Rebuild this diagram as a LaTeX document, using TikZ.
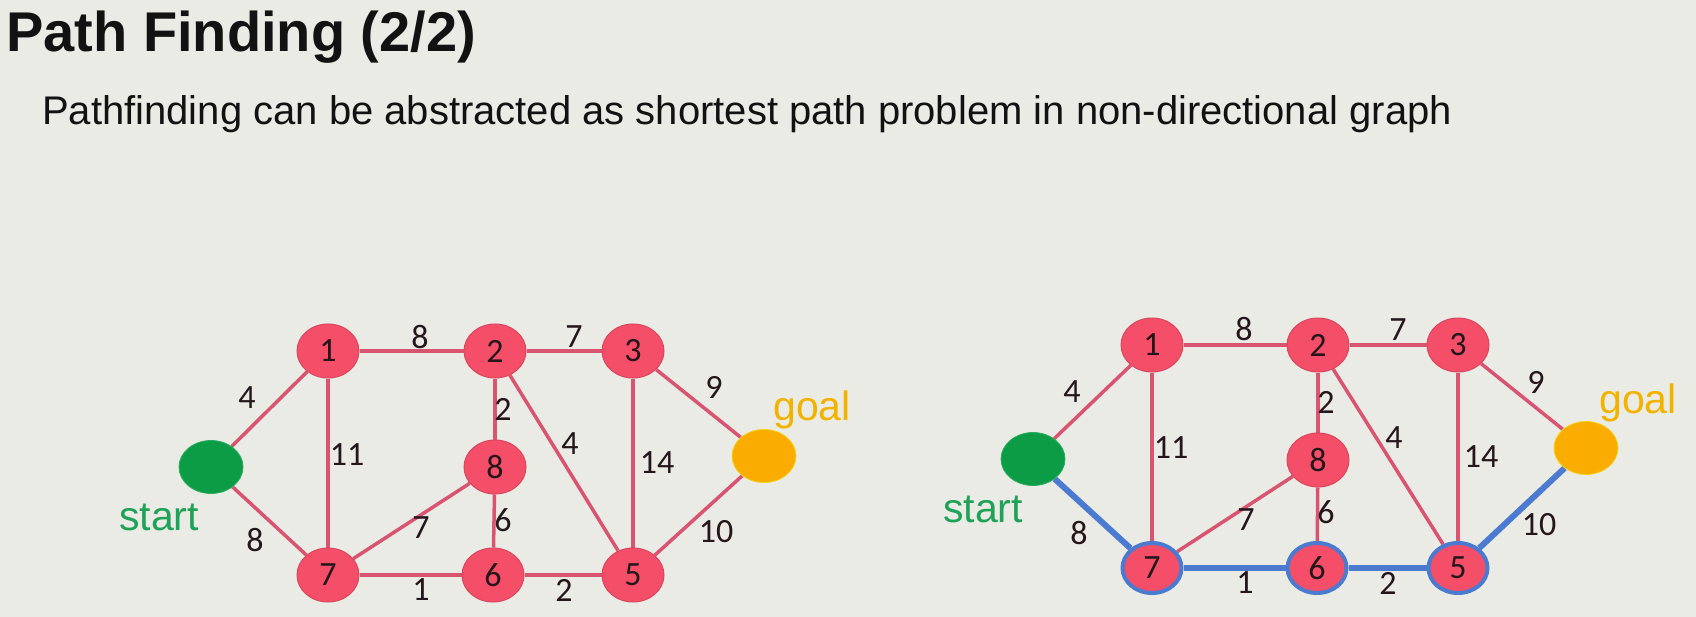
\documentclass[tikz,border=0pt]{standalone}
\usepackage{fontspec}
\setmainfont{Liberation Sans}
\newfontfamily\numfont{Carlito}
\usetikzlibrary{shapes.geometric}

\definecolor{bgcol}{HTML}{EBEBE6}
\definecolor{inkcol}{HTML}{121212}
\definecolor{nodered}{HTML}{F44E68}
\definecolor{noderim}{HTML}{D9475E}
\definecolor{edgered}{HTML}{D95470}
\definecolor{digitcol}{HTML}{24161A}
\definecolor{startgreen}{HTML}{0B9C45}
\definecolor{startrim}{HTML}{26AE5E}
\definecolor{startlbl}{HTML}{1DA257}
\definecolor{goalorange}{HTML}{FAAC00}
\definecolor{goalrim}{HTML}{F5D21A}
\definecolor{goallbl}{HTML}{F2B200}
\definecolor{pathblue}{HTML}{4A7BD0}

\pgfdeclarelayer{canvas}
\pgfdeclarelayer{edges}
\pgfsetlayers{canvas,edges,main}

\tikzset{
  vtx/.style={ellipse, minimum width=62pt, minimum height=54pt, inner sep=0pt,
    fill=nodered, draw=noderim, line width=1pt,
    font=\numfont\fontsize{34}{34}\selectfont, text=digitcol},
  onpath/.style={draw=pathblue, line width=4pt, minimum width=59pt, minimum height=50pt},
  startv/.style={ellipse, minimum width=64pt, minimum height=53pt, inner sep=0pt,
    fill=startgreen, draw=startrim, line width=0.8pt},
  goalv/.style={ellipse, minimum width=64pt, minimum height=53pt, inner sep=0pt,
    fill=goalorange, draw=goalrim, line width=0.8pt},
  link/.style={draw=edgered, line width=3.5pt},
  best/.style={draw=pathblue, line width=6pt},
  wt/.style={font=\numfont\fontsize{34}{34}\selectfont, text=digitcol, inner sep=0pt},
  startname/.style={anchor=base west, inner sep=0pt, text=startlbl,
    font=\fontsize{41}{41}\selectfont},
  goalname/.style={anchor=base west, inner sep=0pt, text=goallbl,
    font=\fontsize{41}{41}\selectfont},
}

\begin{document}
\begin{tikzpicture}[x=1pt, y=-1pt]
\begin{pgfonlayer}{canvas}
  \fill[bgcol] (0,0) rectangle (1696,617);
\end{pgfonlayer}
\useasboundingbox (0,0) rectangle (1696,617);

% heading
\node[anchor=base west, inner sep=0pt, text=inkcol,
      font=\fontsize{56}{60}\selectfont\bfseries] (title) at (6,52) {Path Finding (2/2)};
\node[anchor=base west, inner sep=0pt, text=inkcol,
      font=\fontsize{40}{46}\selectfont] (subtitle) at (42,125)
      {Pathfinding can be abstracted as shortest path problem in non-directional graph};

% ---------- left graph ----------
\node[startv] (Ls) at (211,467) {};
\node[goalv]  (Lg) at (764,456) {};
\node[vtx] (L1) at (328,351) {1};
\node[vtx] (L2) at (495,351) {2};
\node[vtx] (L3) at (633,351) {3};
\node[vtx] (L8) at (495,467) {8};
\node[vtx] (L7) at (328,575) {7};
\node[vtx] (L6) at (493,575) {6};
\node[vtx] (L5) at (633,575) {5};
\node[startname] (Lstart) at (119,530) {start};
\node[goalname]  (Lgoal)  at (773,420) {goal};

\begin{pgfonlayer}{edges}
  \draw[link] (Ls) -- (L1);
  \draw[link] (Ls) -- (L7);
  \draw[link] (L1) -- (L2);
  \draw[link] (L2) -- (L3);
  \draw[link] (L3) -- (Lg);
  \draw[link] (L1) -- (L7);
  \draw[link] (L2) -- (L8);
  \draw[link] (L2) -- (L5);
  \draw[link] (L3) -- (L5);
  \draw[link] (L8) -- (L7);
  \draw[link] (L8) -- (L6);
  \draw[link] (L7) -- (L6);
  \draw[link] (L6) -- (L5);
  \draw[link] (L5) -- (Lg);
\end{pgfonlayer}

\node[wt] (Lw1) at (247,398) {4};
\node[wt] (Lw2) at (420,337) {8};
\node[wt] (Lw3) at (574,337) {7};
\node[wt] (Lw4) at (714,387) {9};
\node[wt] (Lw5) at (503,409) {2};
\node[wt] (Lw6) at (347,455) {11};
\node[wt] (Lw7) at (570,444) {4};
\node[wt] (Lw8) at (657,463) {14};
\node[wt] (Lw9) at (421,528) {7};
\node[wt] (Lw10) at (503,520) {6};
\node[wt] (Lw11) at (716,532) {10};
\node[wt] (Lw12) at (255,540) {8};
\node[wt] (Lw13) at (421,590) {1};
\node[wt] (Lw14) at (564,590) {2};

% ---------- right graph, shortest route highlighted ----------
\node[startv] (Rs) at (1033,459) {};
\node[goalv]  (Rg) at (1586,448) {};
\node[vtx] (R1) at (1152,345) {1};
\node[vtx] (R2) at (1318,345) {2};
\node[vtx] (R3) at (1458,345) {3};
\node[vtx] (R8) at (1318,460) {8};
\node[vtx, onpath] (R7) at (1152,568) {7};
\node[vtx, onpath] (R6) at (1317,568) {6};
\node[vtx, onpath] (R5) at (1458,568) {5};
\node[startname] (Rstart) at (943,522) {start};
\node[goalname]  (Rgoal)  at (1599,413) {goal};

\begin{pgfonlayer}{edges}
  \draw[link] (Rs) -- (R1);
  \draw[link] (R1) -- (R2);
  \draw[link] (R2) -- (R3);
  \draw[link] (R3) -- (Rg);
  \draw[link] (R1) -- (R7);
  \draw[link] (R2) -- (R8);
  \draw[link] (R2) -- (R5);
  \draw[link] (R3) -- (R5);
  \draw[link] (R8) -- (R7);
  \draw[link] (R8) -- (R6);
  \draw[best] (Rs) -- (R7);
  \draw[best] (R7) -- (R6);
  \draw[best] (R6) -- (R5);
  \draw[best] (R5) -- (Rg);
\end{pgfonlayer}

\node[wt] (Rw1) at (1072,392) {4};
\node[wt] (Rw2) at (1244,329) {8};
\node[wt] (Rw3) at (1398,330) {7};
\node[wt] (Rw4) at (1536,382) {9};
\node[wt] (Rw5) at (1326,402) {2};
\node[wt] (Rw6) at (1171,448) {11};
\node[wt] (Rw7) at (1394,438) {4};
\node[wt] (Rw8) at (1481,457) {14};
\node[wt] (Rw9) at (1246,520) {7};
\node[wt] (Rw10) at (1326,512) {6};
\node[wt] (Rw11) at (1539,525) {10};
\node[wt] (Rw12) at (1079,533) {8};
\node[wt] (Rw13) at (1245,583) {1};
\node[wt] (Rw14) at (1388,583) {2};
\end{tikzpicture}
\end{document}
